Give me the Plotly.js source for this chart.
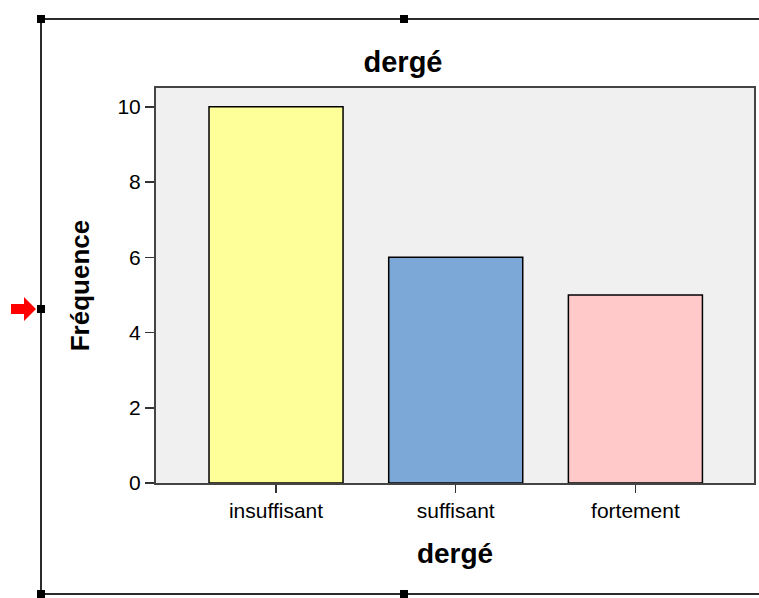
<!DOCTYPE html>
<html>
<head>
<meta charset="utf-8">
<script src="https://cdn.plot.ly/plotly-3.0.1.min.js"></script>
<style>
html,body{margin:0;padding:0;background:#fff;}
#chart{width:759px;height:598px;}
</style>
</head>
<body>
<div id="chart"></div>
<script>
// Data
const categories = ["insuffisant", "suffisant", "fortement"];
const frequencies = [10, 6, 5];
const barColors = ["#FFFF99", "#7BA8D6", "#FFC9C9"];
const chartTitle = "dergé";
const xTitle = "dergé";
const yTitle = "Fréquence";

// Layout geometry (pixels)
const W = 759, H = 598;
const M = {l: 156, r: 5, t: 88, b: 115};
const pw = W - M.l - M.r, ph = H - M.t - M.b;
const px = x => (x - M.l) / pw;
const py = y => (H - M.b - y) / ph;

const font = "Liberation Sans, Arial, sans-serif";
const frameColor = "#2b2b2b";

const shapes = [];
// selection frame lines
shapes.push({type: "line", xref: "paper", yref: "paper", x0: px(41), x1: px(770), y0: py(19), y1: py(19), line: {color: frameColor, width: 2}});
shapes.push({type: "line", xref: "paper", yref: "paper", x0: px(41), x1: px(41), y0: py(19), y1: py(605), line: {color: frameColor, width: 2}});
shapes.push({type: "line", xref: "paper", yref: "paper", x0: px(41), x1: px(770), y0: py(594), y1: py(594), line: {color: frameColor, width: 2}});
// handles
[[41,19],[404,19],[41,309],[41,594],[404,594]].forEach(([hx,hy]) => {
  shapes.push({type: "rect", xref: "paper", yref: "paper", x0: px(hx-4), x1: px(hx+4), y0: py(hy-4), y1: py(hy+4), fillcolor: "#000", line: {width: 0}});
});
// red arrow
shapes.push({type: "path", xref: "paper", yref: "paper",
  path: `M ${px(11)} ${py(304)} L ${px(24)} ${py(304)} L ${px(24)} ${py(297)} L ${px(36)} ${py(309)} L ${px(24)} ${py(321)} L ${px(24)} ${py(314)} L ${px(11)} ${py(314)} Z`,
  fillcolor: "#FF0000", line: {width: 0}});

const trace = {
  type: "bar",
  x: categories,
  y: frequencies,
  width: 0.746,
  marker: {color: barColors, line: {color: "#000", width: 1.5}},
  hoverinfo: "x+y"
};

const layout = {
  width: W, height: H,
  margin: M,
  paper_bgcolor: "#fff",
  plot_bgcolor: "#F0F0F0",
  showlegend: false,
  font: {family: font, color: "#000"},
  title: {
    text: "<b>" + chartTitle + "</b>",
    font: {family: font, size: 29, color: "#000"},
    xref: "container", x: 403 / W, xanchor: "center",
    yref: "container", y: 1 - 62 / H, yanchor: "middle"
  },
  xaxis: {
    type: "category",
    range: [-0.668, 2.66],
    showline: true, linecolor: "#444", linewidth: 2, mirror: true,
    ticks: "outside", ticklen: 8, tickwidth: 1.5, tickcolor: "#333",
    tickfont: {family: font, size: 21, color: "#000"},
    showgrid: false, zeroline: false,
    title: {text: "<b>" + xTitle + "</b>", font: {family: font, size: 28, color: "#000"}, standoff: 22}
  },
  yaxis: {
    range: [0, 10.5],
    dtick: 2, tick0: 0,
    showline: true, linecolor: "#444", linewidth: 2, mirror: true,
    ticks: "outside", ticklen: 9, tickwidth: 1.5, tickcolor: "#333",
    tickfont: {family: font, size: 21, color: "#000"},
    showgrid: false, zeroline: false,
    title: {text: "<b>" + yTitle + "</b>", font: {family: font, size: 26, color: "#000"}, standoff: 20}
  },
  shapes: shapes
};

Plotly.newPlot("chart", [trace], layout, {displayModeBar: false, staticPlot: true});
</script>
</body>
</html>
